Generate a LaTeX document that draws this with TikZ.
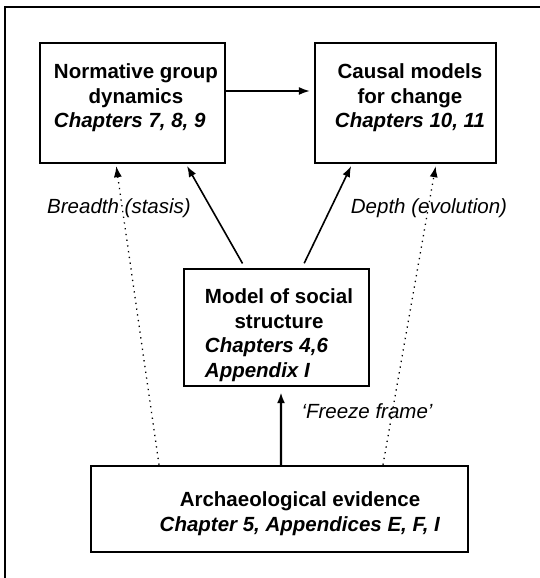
\documentclass[tikz,border=0pt]{standalone}
\usepackage{fontspec}
\setmainfont{Liberation Sans}
\usetikzlibrary{arrows.meta}

\newcommand{\midrow}[1]{\multicolumn{1}{@{}c@{}}{#1}}

\tikzset{
	box/.style={draw, line width=2.4pt, inner sep=0pt},
	boxtext/.style={anchor=base, inner sep=0pt, font=\fontsize{20.5}{24.5}\selectfont\bfseries},
	note/.style={inner sep=0pt, font=\fontsize{20.5}{24.5}\selectfont\itshape},
	link/.style={line width=1.6pt, ->},
	hint/.style={line width=1.3pt, dash pattern=on 1.3pt off 4.5pt, ->},
}

\begin{document}
\begin{tikzpicture}[x=10pt, y=10pt, >={Latex[length=11pt, width=8pt]}]
	\useasboundingbox (0, 0) rectangle (54, 57.8);
	\draw [line width=2.8pt] (0.5, 0) -- (0.5, 57.1) -- (54, 57.1);

		\node [box, minimum width=185pt, minimum height=120pt] (0) at (13.25, 47.5) {};
		\node [box, minimum width=181pt, minimum height=120pt] (1) at (40.55, 47.5) {};
		\node [box, minimum width=185pt, minimum height=117pt] (2) at (27.65, 25.05) {};
		\node [box, minimum width=377pt, minimum height=86pt] (3) at (27.95, 6.9) {};

		\node [boxtext] (4) at (13.6, 49.9) {\begin{tabular}[t]{@{}l@{}}\midrow{Normative group}\\ \midrow{dynamics}\\ \textit{Chapters 7, 8, 9}\end{tabular}};
		\node [boxtext] (5) at (41, 49.9) {\begin{tabular}[t]{@{}c@{}}Causal models\\ for change\\ \textit{Chapters 10, 11}\end{tabular}};
		\node [boxtext] (6) at (27.9, 27.4) {\begin{tabular}[t]{@{}l@{}}\midrow{Model of social}\\ \midrow{structure}\\ \textit{Chapters 4,6}\\ \textit{Appendix I}\end{tabular}};
		\node [boxtext] (7) at (30, 7.1) {\begin{tabular}[t]{@{}c@{}}Archaeological evidence\\ \textit{Chapter 5, Appendices E, F, I}\end{tabular}};

		\node [note] (8) at (11.9, 37) {Breadth (stasis)};
		\node [note] (9) at (42.9, 37) {Depth (evolution)};
		\node [note] (10) at (36.7, 16.7) {`Freeze frame'};

		\draw [link, shorten >=4pt] ([yshift=12pt]0.east) to ([yshift=12pt]1.west);
		\draw [link, shorten <=5pt, shorten >=2pt] ([xshift=-31.5pt]2.north) to ([xshift=53.5pt]0.south);
		\draw [link, shorten <=5pt, shorten >=2pt] ([xshift=25.5pt]2.north) to ([xshift=-53.5pt]1.south);
		\draw [hint, shorten >=2pt] ([xshift=-120.5pt]3.north) to ([xshift=-16.5pt]0.south);
		\draw [hint, shorten >=2pt] ([xshift=103.5pt]3.north) to ([xshift=30.5pt]1.south);
		\draw [link, line width=2.4pt, shorten >=5pt] ([xshift=1.5pt]3.north) to ([xshift=4.5pt]2.south);
\end{tikzpicture}
\end{document}
